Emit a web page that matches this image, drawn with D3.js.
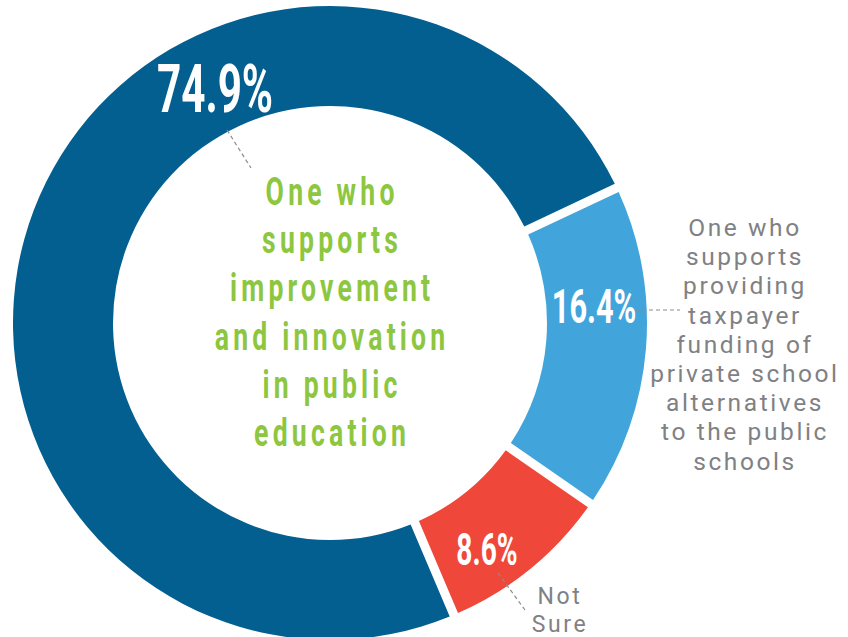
<!DOCTYPE html>
<html>
<head>
<meta charset="utf-8">
<script src="https://cdn.jsdelivr.net/npm/d3@7"></script>
<style>
  html, body { margin: 0; padding: 0; background: #ffffff; }
  svg { display: block; }
</style>
</head>
<body>
<svg id="chart" width="848" height="637"></svg>
<script>
// Survey shares, in drawing order (clockwise)
const categories = [
  "One who supports improvement and innovation in public education",
  "One who supports providing taxpayer funding of private school alternatives to the public schools",
  "Not Sure"
];
const values = [74.9, 16.4, 8.6];
const valueLabels = ["74.9%", "16.4%", "8.6%"];
const colors = ["#035f90", "#41a5dc", "#ef473a"];

const centerLines = ["One who", "supports", "improvement", "and innovation", "in public", "education"];
const sideLines = ["One who", "supports", "providing", "taxpayer", "funding of", "private school", "alternatives", "to the public", "schools"];
const notSureLines = ["Not", "Sure"];

const svg = d3.select("#chart");
const cx = 330, cy = 323;
const outerR = 317, innerR = 217;
const deg = Math.PI / 180;

const pie = d3.pie()
  .sort(null)
  .value(d => d)
  .startAngle(157 * deg)
  .endAngle(157 * deg + 2 * Math.PI)
  .padAngle(9 / 300);

const arc = d3.arc()
  .innerRadius(innerR)
  .outerRadius(outerR)
  .padRadius(300);

const g = svg.append("g").attr("transform", `translate(${cx},${cy})`);

g.selectAll("path.slice")
  .data(pie(values))
  .join("path")
  .attr("class", "slice")
  .attr("d", arc)
  .attr("fill", (d, i) => colors[i]);

// Dashed leader lines from the percentages to their captions
const leaders = [
  [[227, 130], [251, 168]],
  [[635, 310], [680, 310]],
  [[498, 573], [525, 610]]
];
svg.selectAll("line.leader")
  .data(leaders)
  .join("line")
  .attr("class", "leader")
  .attr("x1", d => d[0][0]).attr("y1", d => d[0][1])
  .attr("x2", d => d[1][0]).attr("y2", d => d[1][1])
  .attr("stroke", "#8a8c8f")
  .attr("stroke-width", 1.2)
  .attr("stroke-dasharray", "4,3");

// Condensed text helper: horizontally squeezed text centred on (x, y)
function condensed(x, y, str, opts) {
  const grp = svg.append("g")
    .attr("transform", `translate(${x},${y}) scale(${opts.sx},1)`);
  grp.append("text")
    .attr("x", opts.ls ? opts.ls / 2 : 0)
    .attr("y", 0)
    .attr("text-anchor", "middle")
    .attr("font-family", "Roboto, 'Liberation Sans', sans-serif")
    .attr("font-weight", opts.weight)
    .attr("font-size", opts.size)
    .attr("letter-spacing", opts.ls || 0)
    .attr("fill", opts.fill)
    .text(str);
}

// Percentage labels on the ring
const pctPos = [[215, 112, 66], [594, 323, 48], [487, 565, 44]];
valueLabels.forEach((t, i) => {
  condensed(pctPos[i][0], pctPos[i][1], t, { sx: 0.64, size: pctPos[i][2], weight: 700, fill: "#ffffff" });
});

// Centre caption
centerLines.forEach((t, i) => {
  condensed(330, 205 + i * 48.2, t, { sx: 0.7, size: 38, weight: 700, ls: 6, fill: "#8dc63f" });
});

// Side caption for the light-blue slice
svg.append("text")
  .attr("text-anchor", "middle")
  .attr("font-family", "Roboto, 'Liberation Sans', sans-serif")
  .attr("font-weight", 400)
  .attr("font-size", 24.5)
  .attr("letter-spacing", 2.6)
  .attr("fill", "#7f8184")
  .selectAll("tspan")
  .data(sideLines)
  .join("tspan")
  .attr("x", 745)
  .attr("y", (d, i) => 236 + i * 29.2)
  .text(d => d);

// Caption for the red slice
svg.append("text")
  .attr("text-anchor", "middle")
  .attr("font-family", "Roboto, 'Liberation Sans', sans-serif")
  .attr("font-weight", 400)
  .attr("font-size", 23)
  .attr("letter-spacing", 2.6)
  .attr("fill", "#7f8184")
  .selectAll("tspan")
  .data(notSureLines)
  .join("tspan")
  .attr("x", 560)
  .attr("y", (d, i) => 604 + i * 27.5)
  .text(d => d);
</script>
</body>
</html>
